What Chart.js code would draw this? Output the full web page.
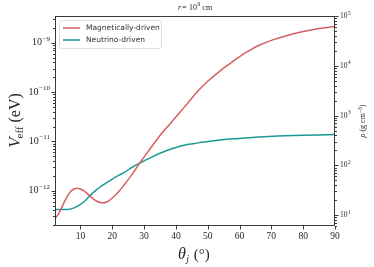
<!DOCTYPE html>
<html>
<head>
<meta charset="utf-8">
<script src="https://cdn.jsdelivr.net/npm/chart.js@4.4.0/dist/chart.umd.min.js"></script>
<style>
  html, body { margin: 0; padding: 0; background: #fff; }
  #wrap { width: 374px; height: 267px; }
</style>
</head>
<body>
<div id="wrap"><canvas id="veffChart" width="374" height="267"></canvas></div>
<script>
// jet opening angle (deg) and V_eff (eV)
var magTheta = [2, 3, 4, 5, 6, 7, 8, 9, 10, 11, 12, 13, 14, 15, 16, 17, 18, 19, 20,
    22, 24, 26, 28, 30, 32, 35, 38, 41, 44, 47, 50, 54, 57, 60, 63, 66, 70, 75, 80, 85, 90];
var magVeff = [2.75e-13, 3.31e-13, 4.37e-13, 6.03e-13, 7.94e-13, 9.77e-13, 1.08e-12, 1.12e-12,
    1.08e-12, 1.00e-12, 8.91e-13, 7.76e-13, 6.92e-13, 6.17e-13, 5.82e-13, 5.69e-13, 5.82e-13,
    6.31e-13, 7.08e-13, 9.55e-13, 1.38e-12, 2.04e-12, 3.16e-12, 4.79e-12, 7.24e-12, 1.32e-11,
    2.21e-11, 3.72e-11, 6.31e-11, 1.06e-10, 1.66e-10, 2.72e-10, 3.80e-10, 5.25e-10, 6.92e-10,
    8.81e-10, 1.12e-9, 1.41e-9, 1.70e-9, 1.95e-9, 2.14e-9];

var nuTheta = [2, 4, 6, 7, 8, 9, 10, 11, 12, 13, 14, 15, 16, 17, 18, 20, 22, 24, 26, 28, 30,
    32, 35, 38, 41, 44, 47, 50, 54, 60, 66, 72, 80, 90];
var nuVeff = [4.17e-13, 4.17e-13, 4.17e-13, 4.27e-13, 4.47e-13, 4.79e-13, 5.25e-13, 5.89e-13,
    6.76e-13, 7.94e-13, 9.12e-13, 1.04e-12, 1.16e-12, 1.29e-12, 1.43e-12, 1.72e-12, 2.04e-12,
    2.40e-12, 2.92e-12, 3.47e-12, 4.03e-12, 4.68e-12, 5.75e-12, 6.84e-12, 7.85e-12, 8.71e-12,
    9.33e-12, 1.00e-11, 1.07e-11, 1.15e-11, 1.23e-11, 1.29e-11, 1.33e-11, 1.38e-11];

var seriesNames = ['Magnetically-driven', 'Neutrino-driven'];
var xTicks = [10, 20, 30, 40, 50, 60, 70, 80, 90];
var veffTicks = [1e-12, 1e-11, 1e-10, 1e-9];
var rhoTicks = [1e1, 1e2, 1e3, 1e4, 1e5];

var SERIF = '"Liberation Serif", "DejaVu Serif", serif';
var SANS = '"DejaVu Sans", sans-serif';
var INK = '#262626';

function pairs(xs, ys) {
    var out = [];
    for (var i = 0; i < xs.length; i++) out.push({ x: xs[i], y: ys[i] });
    return out;
}

// "10" with a raised exponent; align 'right' | 'left' | 'center'
function drawPow(ctx, exp, x, y, size, align) {
    var esize = size * 0.7;
    ctx.font = size + 'px ' + SERIF;
    var wb = ctx.measureText('10').width;
    ctx.font = esize + 'px ' + SERIF;
    var we = ctx.measureText(exp).width;
    var total = wb + we + 0.5;
    var x0 = align === 'right' ? x - total : (align === 'center' ? x - total / 2 : x);
    ctx.textAlign = 'left';
    ctx.textBaseline = 'middle';
    ctx.font = size + 'px ' + SERIF;
    ctx.fillText('10', x0, y);
    ctx.font = esize + 'px ' + SERIF;
    ctx.fillText(exp, x0 + wb + 0.5, y - size * 0.38);
    return total;
}

function expText(v) {
    var e = Math.round(Math.log10(v));
    return e < 0 ? '\u2212' + (-e) : String(e);
}

function logTickMarks(ctx, scale, side) {
    var a = scale.chart.chartArea;
    var lo = Math.floor(Math.log10(scale.min)), hi = Math.ceil(Math.log10(scale.max));
    ctx.beginPath();
    for (var d = lo; d <= hi; d++) {
        for (var k = 1; k <= 9; k++) {
            var v = k * Math.pow(10, d);
            if (v < scale.min || v > scale.max) continue;
            var py = Math.round(scale.getPixelForValue(v)) + 0.5;
            var len = k === 1 ? 3.5 : 2;
            var x0 = side === 'left' ? a.left : a.right;
            ctx.moveTo(x0, py);
            ctx.lineTo(side === 'left' ? x0 - len : x0 + len, py);
        }
    }
    ctx.stroke();
}

var decor = {
    id: 'decor',
    afterDraw: function(chart) {
        var ctx = chart.ctx, a = chart.chartArea;
        var xs = chart.scales.x, ys = chart.scales.y, rs = chart.scales.rho;
        ctx.save();
        ctx.strokeStyle = INK;
        ctx.fillStyle = INK;
        ctx.lineWidth = 0.9;
        ctx.strokeRect(a.left + 0.5, a.top + 0.5, a.right - a.left - 1, a.bottom - a.top - 1);

        // x ticks + labels
        ctx.beginPath();
        xTicks.forEach(function(t) {
            var px = Math.round(xs.getPixelForValue(t)) + 0.5;
            ctx.moveTo(px, a.bottom);
            ctx.lineTo(px, a.bottom + 3.5);
        });
        ctx.stroke();
        ctx.font = '9.5px ' + SERIF;
        ctx.textAlign = 'center';
        ctx.textBaseline = 'middle';
        xTicks.forEach(function(t) {
            ctx.fillText(String(t), xs.getPixelForValue(t), a.bottom + 10);
        });

        // log axes
        logTickMarks(ctx, ys, 'left');
        logTickMarks(ctx, rs, 'right');
        veffTicks.forEach(function(v) {
            drawPow(ctx, expText(v), a.left - 5, ys.getPixelForValue(v), 10, 'right');
        });
        rhoTicks.forEach(function(v) {
            drawPow(ctx, expText(v), a.right + 5, rs.getPixelForValue(v), 7.5, 'left');
        });

        // title r = 10^9 cm
        ctx.font = '8px ' + SERIF;
        ctx.textBaseline = 'middle';
        var cx = (a.left + a.right) / 2, ty = 8;
        var w1 = ctx.measureText('r = ').width, w3 = ctx.measureText(' cm').width;
        var wp = ctx.measureText('10').width + ctx.measureText('9').width * 0.7 + 0.5;
        var tx = cx - (w1 + wp + w3) / 2;
        ctx.font = 'italic 8px ' + SERIF;
        ctx.textAlign = 'left';
        ctx.fillText('r', tx, ty);
        ctx.font = '8px ' + SERIF;
        ctx.fillText(' = ', tx + ctx.measureText('r').width - 0.5, ty);
        drawPow(ctx, '9', tx + w1, ty, 8, 'left');
        ctx.font = '8px ' + SERIF;
        ctx.fillText(' cm', tx + w1 + wp, ty);

        // x axis title: theta_j (deg)
        var by = 259;
        ctx.textAlign = 'left';
        ctx.textBaseline = 'alphabetic';
        ctx.font = 'italic 16px ' + SERIF;
        var xt = 178;
        ctx.fillText('\u03b8', xt, by);
        var wt = ctx.measureText('\u03b8').width;
        ctx.font = 'italic 10px ' + SERIF;
        ctx.fillText('j', xt + wt + 0.5, by + 3);
        ctx.font = '15px ' + SERIF;
        ctx.fillText('(\u00b0)', xt + wt + 8, by);

        // left axis title: V_eff (eV)
        ctx.save();
        ctx.translate(20, 120);
        ctx.rotate(-Math.PI / 2);
        ctx.textBaseline = 'alphabetic';
        ctx.font = 'italic 17px ' + SERIF;
        var wV = ctx.measureText('V').width;
        ctx.font = '11px ' + SERIF;
        var wEff = ctx.measureText('eff').width;
        ctx.font = '16px ' + SERIF;
        var wEv = ctx.measureText(' (eV)').width;
        var sx = -(wV + wEff + wEv) / 2;
        ctx.font = 'italic 17px ' + SERIF;
        ctx.fillText('V', sx, 0);
        ctx.font = '11px ' + SERIF;
        ctx.fillText('eff', sx + wV - 1, 3);
        ctx.font = '16px ' + SERIF;
        ctx.fillText(' (eV)', sx + wV + wEff - 1, 0);
        ctx.restore();

        // right axis title: rho (g cm^-3)
        ctx.save();
        ctx.translate(365, 121);
        ctx.rotate(-Math.PI / 2);
        ctx.textBaseline = 'alphabetic';
        ctx.font = 'italic 8px ' + SERIF;
        var wr = ctx.measureText('\u03c1 ').width;
        ctx.font = '8px ' + SERIF;
        var wg = ctx.measureText('(g cm').width;
        ctx.font = '5.5px ' + SERIF;
        var we3 = ctx.measureText('\u22123').width;
        ctx.font = '8px ' + SERIF;
        var wc = ctx.measureText(')').width;
        var rx = -(wr + wg + we3 + wc) / 2;
        ctx.font = 'italic 8px ' + SERIF;
        ctx.fillText('\u03c1 ', rx, 0);
        ctx.font = '8px ' + SERIF;
        ctx.fillText('(g cm', rx + wr, 0);
        ctx.font = '5.5px ' + SERIF;
        ctx.fillText('\u22123', rx + wr + wg, -3.5);
        ctx.font = '8px ' + SERIF;
        ctx.fillText(')', rx + wr + wg + we3, 0);
        ctx.restore();

        // legend box
        var lx = 59, ly = 20, lw = 102, lh = 28;
        ctx.beginPath();
        if (ctx.roundRect) ctx.roundRect(lx + 0.5, ly + 0.5, lw, lh, 2);
        else ctx.rect(lx + 0.5, ly + 0.5, lw, lh);
        ctx.fillStyle = 'rgba(255,255,255,0.85)';
        ctx.fill();
        ctx.strokeStyle = '#d6d6d6';
        ctx.lineWidth = 0.8;
        ctx.stroke();
        ctx.font = '7.5px ' + SANS;
        ctx.textAlign = 'left';
        ctx.textBaseline = 'middle';
        chart.data.datasets.forEach(function(ds, i) {
            var yy = ly + 8 + i * 12;
            ctx.strokeStyle = ds.borderColor;
            ctx.lineWidth = 1.5;
            ctx.beginPath();
            ctx.moveTo(63, yy);
            ctx.lineTo(80, yy);
            ctx.stroke();
            ctx.fillStyle = '#333';
            ctx.fillText(ds.label, 86, yy);
        });
        ctx.restore();
    }
};

new Chart(document.getElementById('veffChart'), {
    type: 'line',
    data: {
        datasets: [{
            label: seriesNames[0],
            data: pairs(magTheta, magVeff),
            borderColor: '#d65f5f',
            borderWidth: 1.5,
            pointRadius: 0,
            tension: 0.4,
            yAxisID: 'y'
        }, {
            label: seriesNames[1],
            data: pairs(nuTheta, nuVeff),
            borderColor: '#1a9a96',
            borderWidth: 1.5,
            pointRadius: 0,
            tension: 0.4,
            yAxisID: 'y'
        }]
    },
    options: {
        responsive: false,
        animation: false,
        events: [],
        layout: { padding: { top: 16, left: 0, right: 0, bottom: 0 } },
        plugins: {
            legend: { display: false },
            title: { display: false },
            tooltip: { enabled: false }
        },
        scales: {
            x: {
                type: 'linear', min: 2, max: 90,
                grid: { display: false }, border: { display: false },
                ticks: { display: false },
                afterFit: function(s) { s.height = 41; }
            },
            y: {
                type: 'logarithmic', position: 'left',
                min: 1.92e-13, max: 3.5e-9,
                grid: { display: false }, border: { display: false },
                ticks: { display: false },
                afterFit: function(s) { s.width = 55; }
            },
            rho: {
                type: 'logarithmic', position: 'right',
                min: 6.0, max: 1.01e5,
                grid: { display: false }, border: { display: false },
                ticks: { display: false },
                afterFit: function(s) { s.width = 39; }
            }
        }
    },
    plugins: [decor]
});
</script>
</body>
</html>
